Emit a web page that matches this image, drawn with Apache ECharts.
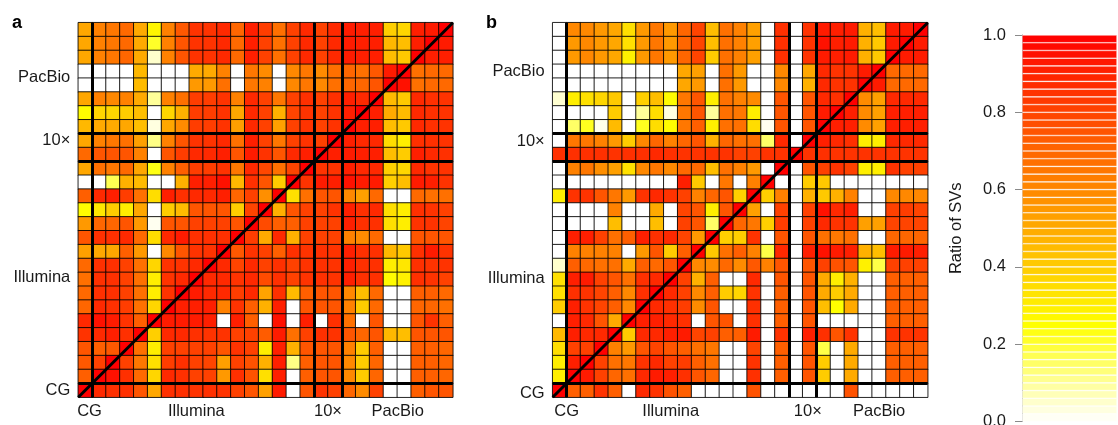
<!DOCTYPE html>
<html><head><meta charset="utf-8">
<script src="https://cdn.jsdelivr.net/npm/echarts@6/dist/echarts.min.js"></script>
<style>html,body{margin:0;padding:0;background:#fff}#c{width:1118px;height:425px}</style>
</head><body><div id="c"></div>
<script>
// ---------- categories ----------
const groupNames = ['CG', 'Illumina', '10×', 'PacBio'];
const groupSizes = [1, 16, 2, 8];
const categories = [];
groupNames.forEach((g, gi) => { for (let k = 1; k <= groupSizes[gi]; k++) categories.push(groupSizes[gi] === 1 ? g : g + '-' + k); });

// ---------- panel a: ratio of SVs (rows listed from TOP row (last category) to BOTTOM row (CG)) ----------
const ratioA = [
[0.51,0.62,0.65,0.69,0.50,0.28,0.62,0.74,0.85,0.85,0.88,0.70,0.91,0.82,0.67,0.81,0.88,0.81,0.88,0.92,0.91,0.91,0.39,0.37,0.91,0.92,1],
[0.51,0.62,0.65,0.69,0.50,0.21,0.62,0.75,0.85,0.85,0.88,0.69,0.91,0.81,0.67,0.81,0.88,0.81,0.88,0.92,0.91,0.91,0.46,0.44,0.91,1,0.92],
[0.51,0.62,0.65,0.70,0.50,0.05,0.62,0.75,0.85,0.85,0.88,0.69,0.91,0.81,0.67,0.81,0.88,0.81,0.88,0.92,0.91,0.91,0.44,0.41,1,0.91,0.91],
[0,0,0,0,0.46,0,0,0,0.50,0.50,0.62,0,0.65,0.59,0,0.60,0.65,0.59,0.67,0.70,0.67,0.74,0.92,1,0.67,0.69,0.69],
[0,0,0,0,0.45,0,0,0,0.55,0.55,0.67,0,0.65,0.62,0,0.60,0.65,0.60,0.67,0.70,0.70,0.75,1,0.95,0.67,0.69,0.69],
[0.51,0.62,0.60,0.62,0.50,0.10,0.62,0.67,0.82,0.82,0.85,0.62,0.88,0.81,0.65,0.81,0.86,0.81,0.86,0.91,0.88,1,0.45,0.41,0.88,0.86,0.85],
[0.26,0.37,0.37,0.40,0.44,0,0.37,0.48,0.82,0.82,0.85,0.51,0.88,0.81,0.48,0.80,0.85,0.81,0.85,0.91,1,0.91,0.50,0.45,0.88,0.86,0.85],
[0.46,0.50,0.50,0.51,0.44,0.03,0.51,0.59,0.82,0.82,0.85,0.53,0.88,0.81,0.53,0.81,0.85,0.81,0.85,1,0.91,0.91,0.44,0.41,0.88,0.86,0.85],
[0.51,0.62,0.65,0.67,0.53,0.12,0.62,0.75,0.85,0.85,0.88,0.67,0.91,0.81,0.65,0.81,0.85,0.81,1,0.91,0.88,0.88,0.35,0.30,0.86,0.86,0.85],
[0.69,0.75,0.75,0.75,0.62,0,0.75,0.82,0.88,0.88,0.91,0.75,0.92,0.85,0.75,0.88,0.91,1,0.91,0.92,0.91,0.91,0.44,0.40,0.91,0.88,0.86],
[0.51,0.67,0.65,0.69,0.51,0.23,0.62,0.72,0.82,0.82,0.85,0.65,0.88,0.79,0.67,0.80,1,0.85,0.85,0.91,0.88,0.88,0.39,0.37,0.88,0.85,0.85],
[0,0,0.17,0.48,0.45,0,0,0.48,0.91,0.91,0.95,0.46,0.86,0.75,0.40,1,0.85,0.92,0.91,0.95,0.92,0.92,0.39,0.44,0.92,0.91,0.85],
[0.72,0.88,0.91,0.82,0.67,0.35,0.91,0.86,0.88,0.88,0.91,0.70,0.81,0.58,1,0.34,0.67,0.75,0.75,0.60,0.53,0.69,0,0,0.69,0.67,0.67],
[0.26,0.32,0.40,0.30,0.51,0,0.40,0.45,0.75,0.75,0.75,0.39,0.80,1,0.48,0.75,0.81,0.81,0.85,0.91,0.86,0.88,0.34,0.30,0.86,0.85,0.81],
[0.55,0.70,0.70,0.75,0.55,0.015,0.75,0.75,0.81,0.81,0.81,0.75,1,0.78,0.72,0.72,0.81,0.81,0.81,0.91,0.86,0.86,0.34,0.30,0.85,0.85,0.80],
[0.75,0.86,0.86,0.88,0.69,0.35,0.88,0.92,0.86,0.86,0.86,1,0.82,0.50,0.88,0.48,0.81,0.81,0.81,0.62,0.59,0.69,0,0,0.75,0.75,0.75],
[0.53,0.51,0.51,0.72,0.55,0,0.60,0.75,0.85,0.85,1,0.74,0.85,0.81,0.72,0.86,0.85,0.86,0.85,0.91,0.86,0.86,0.46,0.41,0.86,0.92,0.85],
[0.69,0.86,0.86,0.81,0.67,0.37,0.85,0.85,0.88,1,0.88,0.80,0.88,0.81,0.86,0.81,0.85,0.86,0.85,0.91,0.86,0.86,0.30,0.32,0.86,0.85,0.85],
[0.67,0.86,0.86,0.81,0.67,0.30,0.85,0.88,1,0.88,0.88,0.85,0.88,0.78,0.86,0.81,0.85,0.86,0.85,0.91,0.86,0.86,0.26,0.29,0.86,0.85,0.81],
[0.69,0.86,0.86,0.81,0.67,0.30,0.85,1,0.92,0.88,0.88,0.82,0.88,0.52,0.86,0.45,0.72,0.75,0.75,0.60,0.44,0.69,0,0,0.72,0.72,0.69],
[0.70,0.88,0.86,0.82,0.67,0.37,1,0.91,0.91,0.91,0.62,0.85,0.72,0.48,0.91,0,0.75,0.75,0.75,0.62,0.40,0.69,0,0,0.70,0.70,0.67],
[0.88,0.95,0.92,0.85,0.72,1,0.92,0.92,0.92,0.91,0,0.91,0.72,0,0.95,0,0.91,0,0.86,0.67,0,0.75,0,0,0.75,0.85,0.72],
[0.85,0.88,0.91,0.86,1,0.39,0.88,0.88,0.86,0.85,0.85,0.81,0.81,0.73,0.92,0.67,0.81,0.86,0.85,0.75,0.70,0.75,0.46,0.44,0.75,0.75,0.75],
[0.75,0.72,0.74,1,0.67,0.30,0.81,0.81,0.81,0.81,0.75,0.85,0.81,0.30,0.91,0.48,0.75,0.75,0.75,0.62,0.40,0.72,0,0,0.72,0.72,0.70],
[0.74,0.81,1,0.81,0.65,0.34,0.82,0.86,0.81,0.80,0.53,0.81,0.76,0.48,0.91,0.12,0.72,0.75,0.75,0.60,0.40,0.70,0,0,0.72,0.72,0.70],
[0.72,1,0.95,0.86,0.69,0.37,0.88,0.86,0.81,0.81,0.55,0.86,0.76,0.34,0.91,0,0.72,0.75,0.75,0.60,0.40,0.70,0,0,0.72,0.72,0.70],
[1,0.88,0.86,0.86,0.75,0.51,0.86,0.86,0.85,0.86,0.85,0.81,0.75,0.53,0.92,0,0.75,0.85,0.81,0.70,0.59,0.81,0,0,0.72,0.75,0.75]
];

// ---------- panel b ----------
const ratioB = [
[0,0.60,0.60,0.55,0.51,0.34,0.55,0.65,0.55,0.70,0.80,0.44,0.67,0.62,0.53,0,0.86,0,0.85,0.92,0.91,0.92,0.48,0.44,0.92,0.92,1],
[0,0.55,0.60,0.55,0.51,0.34,0.55,0.65,0.55,0.70,0.80,0.44,0.67,0.62,0.53,0,0.86,0,0.85,0.95,0.91,0.92,0.48,0.41,0.92,1,0.92],
[0,0.55,0.60,0.55,0.51,0.29,0.55,0.65,0.55,0.70,0.80,0.40,0.67,0.62,0.53,0,0.86,0,0.85,0.92,0.91,0.92,0.48,0.41,1,0.92,0.92],
[0,0,0,0,0,0,0,0,0,0.51,0.53,0,0.67,0.55,0,0,0.60,0,0.51,0.88,0.85,0.85,0.92,1,0.69,0.69,0.69],
[0,0,0,0,0,0,0,0,0,0.51,0.55,0,0.67,0.55,0,0,0.60,0,0.48,0.88,0.85,0.85,1,0.92,0.69,0.69,0.69],
[0.045,0.30,0.34,0.37,0.41,0,0.39,0.44,0.26,0.65,0.75,0.30,0.67,0.62,0.59,0,0.75,0,0.75,0.88,0.86,1,0.59,0.53,0.88,0.88,0.88],
[0,0,0,0,0.40,0,0.10,0.35,0.03,0.65,0.75,0.10,0.67,0.65,0.30,0,0.75,0,0.75,0.92,1,0.91,0.59,0.53,0.91,0.91,0.91],
[0,0.15,0.22,0.02,0.45,0,0.22,0.35,0.26,0.65,0.72,0.30,0.67,0.67,0.35,0.015,0.75,0,0.75,1,0.91,0.91,0.59,0.53,0.91,0.91,0.91],
[0,0.65,0.65,0.62,0.55,0.40,0.60,0.70,0.62,0.70,0.75,0.48,0.70,0.67,0.67,0.15,0.88,0,1,0.91,0.88,0.86,0.30,0.30,0.88,0.88,0.88],
[0.86,0.86,0.86,0.86,0.85,0.86,0.86,0.88,0.86,0.85,0.85,0.85,0.85,0.81,0.81,0.85,0.85,1,0.85,0.86,0.85,0.85,0.85,0.85,0.85,0.85,0.85],
[0,0.62,0.65,0.58,0.53,0.34,0.60,0.65,0.60,0.69,0.69,0.44,0.67,0.62,0.55,0,1,0,0.75,0.81,0.85,0.81,0.30,0.30,0.85,0.81,0.81],
[0,0,0,0,0,0,0,0,0,0.91,0.41,0,0.65,0,0.62,1,0,0,0.40,0.41,0,0,0,0,0,0,0],
[0.30,0.85,0.85,0.75,0.65,0.55,0.85,0.88,0.85,0.81,0.62,0.70,0.75,0.39,1,0.39,0.62,0,0.48,0.41,0.48,0.62,0,0,0.60,0.60,0.60],
[0,0,0,0,0.62,0,0,0.50,0,0.80,0.75,0.30,0.75,1,0.53,0,0.81,0,0.81,0.95,0.88,0.91,0,0,0.81,0.82,0.80],
[0,0,0,0,0.44,0,0,0.44,0,0.81,0.75,0.15,1,0.70,0.65,0.39,0.82,0,0.81,0.88,0.85,0.85,0.53,0.53,0.80,0.80,0.80],
[0,0.91,0.91,0.81,0.67,0.72,0.91,0.86,0.88,0.80,0.55,1,0.39,0.39,0.85,0,0.75,0,0.75,0.67,0.65,0.67,0,0,0.70,0.70,0.70],
[0,0.62,0.62,0.62,0.62,0,0.55,0.75,0.40,0.72,1,0.41,0.67,0.72,0.62,0.18,0.88,0,0.91,0.95,0.92,0.91,0.48,0.44,0.92,0.92,0.91],
[0.05,0.72,0.69,0.67,0.67,0.50,0.72,0.69,0.75,1,0.60,0.59,0.69,0.59,0.74,0.62,0.75,0,0.75,0.81,0.76,0.75,0.29,0.18,0.81,0.81,0.81],
[0.34,0.91,0.92,0.81,0.75,0.67,0.86,0.88,1,0.81,0.48,0.72,0,0,0.88,0,0.75,0,0.75,0.50,0.30,0.48,0,0,0.72,0.72,0.72],
[0.34,0.86,0.85,0.80,0.72,0.60,0.86,1,0.88,0.81,0.60,0.72,0.40,0.37,0.85,0,0.72,0,0.75,0.50,0.40,0.50,0,0,0.72,0.72,0.72],
[0.40,0.91,0.85,0.80,0.72,0.60,1,0.88,0.86,0.82,0.59,0.75,0,0,0.86,0,0.72,0,0.75,0.44,0.25,0.50,0,0,0.72,0.72,0.72],
[0,0.91,0.88,0.75,0.50,1,0.91,0.91,0.88,0.86,0,0.75,0.75,0,0.86,0,0.72,0,0.75,0,0,0,0,0,0.72,0.72,0.72],
[0.46,0.91,0.88,0.88,1,0.40,0.88,0.88,0.91,0.92,0.80,0.81,0.72,0.72,0.92,0,0.85,0,0.91,0.86,0.75,0.85,0,0,0.85,0.85,0.85],
[0.35,0.81,0.81,1,0.62,0.55,0.75,0.80,0.75,0.72,0.67,0.65,0,0,0.80,0,0.72,0,0.75,0.18,0,0.50,0,0,0.72,0.72,0.72],
[0.30,0.91,1,0.81,0.67,0.65,0.85,0.88,0.81,0.82,0.72,0.67,0,0,0.85,0,0.72,0,0.75,0.40,0,0.50,0,0,0.72,0.72,0.72],
[0.30,1,0.92,0.81,0.70,0.67,0.88,0.92,0.91,0.86,0.75,0.70,0,0,0.86,0,0.72,0,0.75,0.40,0,0.50,0,0,0.72,0.72,0.72],
[1,0.72,0.72,0.85,0.72,0,0.88,0.85,0.76,0.72,0,0,0,0,0.76,0,0,0,0,0,0,0.76,0,0,0,0,0]
];

// colour-bar ticks
const colorbarTicks = [0, 0.2, 0.4, 0.6, 0.8, 1.0];
const colorbarBands = 50;

// ---------- layout (not data) ----------
const FONT = '"Liberation Sans", Arial, Helvetica, sans-serif';
const TXT = '#1a1a1a';
const N = categories.length;
const labelPos = {
  a: { x: [0.81, 8.51, 18.0, 23.03], y: [0.5, 8.6, 18.54, 23.03] },
  b: { x: [1.0, 8.5, 18.37, 23.5], y: [0.3, 8.59, 18.42, 23.52] }
};

function heat(v) {
  if (v <= 0) return 'rgb(255,255,255)';
  let g, b;
  if (v >= 0.25) { g = Math.round(255 * (1 - v) / 0.75); b = 0; }
  else { g = 255; b = Math.round(255 * (1 - v / 0.25)); }
  return 'rgb(255,' + g + ',' + b + ')';
}
const heatStops = [];
for (let i = 0; i <= 100; i++) heatStops.push(heat(i / 100));

function toCells(m) {
  const out = [];
  m.forEach((row, r) => row.forEach((v, c) => out.push([c, N - 1 - r, v])));
  return out;
}
const bounds = [];
groupSizes.reduce((acc, s, i) => { acc += s; if (i < groupSizes.length - 1) bounds.push(acc); return acc; }, 0);
function frameLines() {
  const d = [];
  bounds.forEach(b => { d.push({ coords: [[b, 0], [b, N]] }); d.push({ coords: [[0, b], [N, b]] }); });
  d.push({ coords: [[0, 0], [N, N]] });
  return d;
}
function nearestName(list) {
  return function (val) {
    let best = 0, bd = 1e9;
    list.forEach((p, i) => { const d = Math.abs(p - val); if (d < bd) { bd = d; best = i; } });
    return groupNames[best];
  };
}
const hiddenCat = (grid, isX) => ({ type: 'category', gridIndex: grid, data: categories, show: false, position: isX ? 'top' : 'right' });
function labelAxis(grid, pos, isX) {
  return {
    type: 'value', gridIndex: grid, min: 0, max: N, position: isX ? 'bottom' : 'left',
    axisLine: { show: false }, axisTick: { show: false }, splitLine: { show: false },
    axisLabel: {
      customValues: pos, formatter: nearestName(pos), color: TXT, fontFamily: FONT, fontSize: 16.5,
      margin: isX ? 6 : 8, showMinLabel: true, showMaxLabel: true
    }
  };
}

const grids = [
  { left: 78.3, top: 22.7, width: 374.5, height: 374.5, outerBoundsMode: 'none' },
  { left: 552.7, top: 22.7, width: 375, height: 374.5, outerBoundsMode: 'none' },
  { left: 1022, top: 35, width: 95, height: 386.5, outerBoundsMode: 'none' }
];

const bandLevels = [];
for (let i = 0; i < colorbarBands; i++) bandLevels.push((i + 0.5) / colorbarBands);

const option = {
  animation: false,
  backgroundColor: '#fff',
  textStyle: { fontFamily: FONT },
  title: [
    { text: 'a', left: 12, top: 14, padding: 0, textStyle: { fontFamily: FONT, fontSize: 18, fontWeight: 'bold', color: '#000' } },
    { text: 'b', left: 486, top: 14, padding: 0, textStyle: { fontFamily: FONT, fontSize: 18, fontWeight: 'bold', color: '#000' } }
  ],
  grid: grids,
  xAxis: [
    hiddenCat(0, true), labelAxis(0, labelPos.a.x, true),
    hiddenCat(1, true), labelAxis(1, labelPos.b.x, true),
    { type: 'value', gridIndex: 2, min: 0, max: 1, show: false }
  ],
  yAxis: [
    hiddenCat(0, false), labelAxis(0, labelPos.a.y, false),
    hiddenCat(1, false), labelAxis(1, labelPos.b.y, false),
    { type: 'category', gridIndex: 2, data: bandLevels.map(String), show: false, position: 'right' },
    {
      type: 'value', gridIndex: 2, min: 0, max: 1, interval: 0.2, position: 'left',
      name: 'Ratio of SVs', nameLocation: 'middle', nameGap: 57, nameRotate: 90,
      nameTextStyle: { fontFamily: FONT, fontSize: 16.5, color: TXT },
      axisLine: { show: true, lineStyle: { color: '#8a8a8a', width: 1 } },
      axisTick: { show: true, length: 7, lineStyle: { color: '#8a8a8a' } },
      splitLine: { show: false },
      axisLabel: { color: TXT, fontFamily: FONT, fontSize: 16.5, margin: 16, formatter: v => v.toFixed(1), showMinLabel: true, showMaxLabel: true }
    }
  ],
  visualMap: [{
    type: 'continuous', show: false, min: 0, max: 1, dimension: 2, seriesIndex: [0, 1],
    inRange: { color: heatStops }
  }],
  series: [
    {
      type: 'heatmap', xAxisIndex: 0, yAxisIndex: 0, data: toCells(ratioA), silent: true,
      itemStyle: { borderColor: 'rgba(0,0,0,0.85)', borderWidth: 1 }
    },
    {
      type: 'heatmap', xAxisIndex: 2, yAxisIndex: 2, data: toCells(ratioB), silent: true,
      itemStyle: { borderColor: 'rgba(0,0,0,0.85)', borderWidth: 1 }
    },
    {
      type: 'lines', coordinateSystem: 'cartesian2d', xAxisIndex: 1, yAxisIndex: 1, z: 10, silent: true,
      lineStyle: { color: '#000', width: 3, opacity: 1, curveness: 0 }, data: frameLines()
    },
    {
      type: 'lines', coordinateSystem: 'cartesian2d', xAxisIndex: 3, yAxisIndex: 3, z: 10, silent: true,
      lineStyle: { color: '#000', width: 3, opacity: 1, curveness: 0 }, data: frameLines()
    },
    {
      type: 'bar', xAxisIndex: 4, yAxisIndex: 4, barCategoryGap: '0%', silent: true,
      data: bandLevels.map(l => ({ value: 1, itemStyle: { color: heat(l) } })),
      itemStyle: { borderColor: 'rgba(255,255,255,0.75)', borderWidth: 0.6 }
    }
  ]
};
const chart = echarts.init(document.getElementById('c'), null, { renderer: 'canvas' });
chart.setOption(option);
</script></body></html>
